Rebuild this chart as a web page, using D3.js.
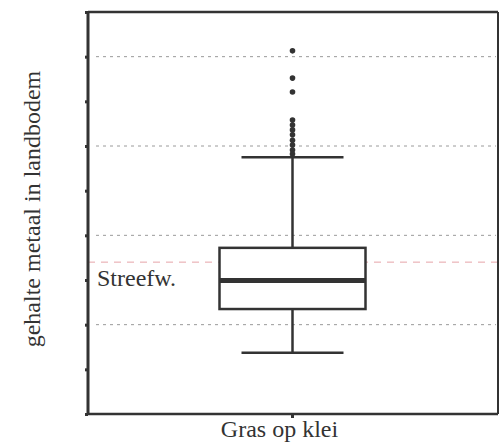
<!DOCTYPE html>
<html>
<head>
<meta charset="utf-8">
<script src="https://cdn.jsdelivr.net/npm/d3@7/dist/d3.min.js"></script>
<style>
  html, body { margin: 0; padding: 0; background: #fff; }
  svg { display: block; }
  text { font-family: "Liberation Serif", "DejaVu Serif", serif; fill: #333; }
</style>
</head>
<body>
<svg id="chart" width="501" height="443"></svg>
<script>
// Box plot summary for metal content in soil (grass on clay)
const categories = ["Gras op klei"];
const lowerWhisker = [1.37];
const q1 = [2.35];
const median = [2.99];
const q3 = [3.72];
const upperWhisker = [5.75];
const outliers = [[8.13, 7.52, 7.21, 6.58, 6.47, 6.36, 6.25, 6.13, 6.02, 5.91, 5.82]];
const targetValue = 3.40;        // streefwaarde
const targetLabel = "Streefw.";
const yTicks = [0, 1, 2, 3, 4, 5, 6, 7, 8, 9];
const gridValues = [2, 4, 6, 8];
const yTitle = "gehalte metaal in landbodem";

const svg = d3.select("#chart");
const margin = { left: 88, right: 3, top: 12, bottom: 29 };
const W = 501, H = 443;
const x0 = margin.left, x1 = W - margin.right;
const yTop = margin.top, yBot = H - margin.bottom;

const y = d3.scaleLinear().domain([0, 9]).range([yBot, yTop]);
const x = d3.scaleBand().domain(categories).range([x0, x1]).paddingInner(0).paddingOuter(0);
// box centred on the band, box width fixed
const cx = c => x(c) + x.bandwidth() / 2 - 0.5;
const boxHalf = 73, capHalf = 51;

const ink = "#333";

// dotted grid lines
svg.append("g").selectAll("line").data(gridValues).join("line")
  .attr("x1", x0 + 8).attr("x2", x1 - 2)
  .attr("y1", d => y(d)).attr("y2", d => y(d))
  .attr("stroke", "#9a9a9a").attr("stroke-width", 1)
  .attr("stroke-dasharray", "3,4");

// target-value line
svg.append("line")
  .attr("x1", x0).attr("x2", x1)
  .attr("y1", y(targetValue)).attr("y2", y(targetValue))
  .attr("stroke", "#e6a3a8").attr("stroke-width", 1)
  .attr("stroke-dasharray", "7,6");

// frame
svg.append("line").attr("x1", x0).attr("x2", x1).attr("y1", yTop).attr("y2", yTop)
  .attr("stroke", ink).attr("stroke-width", 2.5);
svg.append("line").attr("x1", x1).attr("x2", x1).attr("y1", yTop).attr("y2", yBot)
  .attr("stroke", ink).attr("stroke-width", 2);

// axes
const yAxis = d3.axisLeft(y).tickValues(yTicks).tickSize(3).tickFormat("");
const gy = svg.append("g").attr("transform", `translate(${x0},0)`).call(yAxis);
gy.select(".domain").attr("stroke", ink).attr("stroke-width", 3).attr("d", `M0,${yTop}V${yBot}`);
gy.selectAll(".tick line").attr("stroke", ink).attr("stroke-width", 3);

const xAxis = d3.axisBottom(x).tickSize(4).tickFormat("");
const gx = svg.append("g").attr("transform", `translate(0,${yBot})`).call(xAxis);
gx.select(".domain").attr("stroke", ink).attr("stroke-width", 2.5).attr("d", `M${x0},0H${x1}`);
gx.selectAll(".tick line").attr("stroke", ink).attr("stroke-width", 3)
  .attr("transform", "translate(-0.5,0)");

// box plot
const g = svg.append("g");
categories.forEach((c, i) => {
  const c0 = cx(c);
  // whiskers
  g.append("line").attr("x1", c0).attr("x2", c0)
    .attr("y1", y(q3[i])).attr("y2", y(upperWhisker[i]))
    .attr("stroke", ink).attr("stroke-width", 2.5);
  g.append("line").attr("x1", c0).attr("x2", c0)
    .attr("y1", y(q1[i])).attr("y2", y(lowerWhisker[i]))
    .attr("stroke", ink).attr("stroke-width", 2.5);
  // caps
  [upperWhisker[i], lowerWhisker[i]].forEach(v => {
    g.append("line").attr("x1", c0 - capHalf).attr("x2", c0 + capHalf)
      .attr("y1", y(v)).attr("y2", y(v))
      .attr("stroke", ink).attr("stroke-width", 2.5);
  });
  // box
  g.append("rect")
    .attr("x", c0 - boxHalf).attr("width", boxHalf * 2)
    .attr("y", y(q3[i])).attr("height", y(q1[i]) - y(q3[i]))
    .attr("fill", "#fff").attr("stroke", ink).attr("stroke-width", 2.5);
  // median
  g.append("line").attr("x1", c0 - boxHalf).attr("x2", c0 + boxHalf)
    .attr("y1", y(median[i])).attr("y2", y(median[i]))
    .attr("stroke", ink).attr("stroke-width", 5);
  // outliers
  g.selectAll(null).data(outliers[i]).join("circle")
    .attr("cx", c0).attr("cy", d => y(d)).attr("r", 2.8)
    .attr("fill", ink);
});

// target label
svg.append("text")
  .attr("x", x0 + 9).attr("y", y(targetValue) + 24)
  .attr("font-size", 24)
  .text(targetLabel);

// axis titles
svg.append("text")
  .attr("transform", `translate(40,209) rotate(-90)`)
  .attr("text-anchor", "middle")
  .attr("font-size", 24)
  .text(yTitle);

svg.append("text")
  .attr("x", cx(categories[0]) - 13).attr("y", 437)
  .attr("text-anchor", "middle")
  .attr("font-size", 24)
  .text(categories[0]);
</script>
</body>
</html>
